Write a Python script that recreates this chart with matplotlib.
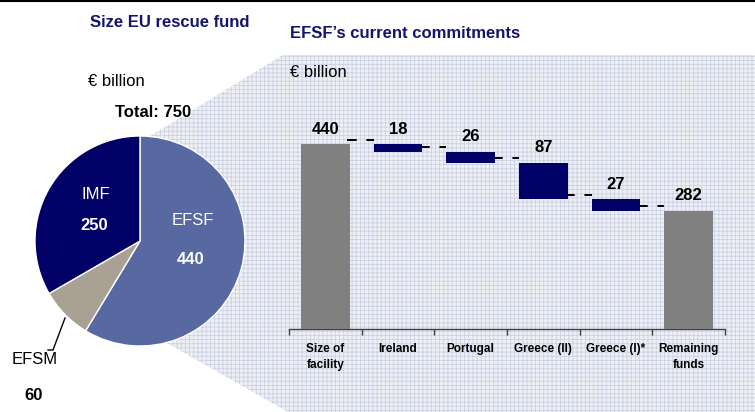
import numpy as np
import matplotlib
matplotlib.use("Agg")
from matplotlib import pyplot as plt
from matplotlib.patches import Polygon

plt.rcParams['font.family'] = ['Liberation Sans', 'DejaVu Sans']
plt.rcParams['hatch.linewidth'] = 0.6

# pie data
pie_labels = ['EFSF', 'EFSM', 'IMF']
pie_values = [440, 60, 250]
pie_colors = ['#5868a0', '#a9a194', '#000066']

# waterfall data
categories = ['Size of\nfacility', 'Ireland', 'Portugal', 'Greece (II)', 'Greece (I)*', 'Remaining\nfunds']
values = [440, 18, 26, 87, 27, 282]
kinds = ['total', 'step', 'step', 'step', 'step', 'total']

navy = '#000066'
title_col = '#14146e'

W, H = 755, 412
fig = plt.figure(figsize=(W / 100, H / 100), dpi=100)

# background in pixel coords
bg = fig.add_axes([0, 0, 1, 1])
bg.set_xlim(0, W)
bg.set_ylim(H, 0)
bg.axis('off')
shade = Polygon([(283, 55), (W, 55), (W, H), (288, H), (160, 339), (140, 241), (148, 137.4)],
                closed=True, facecolor='#eef0f6', edgecolor='#ccd1e3', hatch='++++', lw=0)
bg.add_patch(shade)
bg.plot([0, W], [0.8, 0.8], color='black', lw=1.5)

# pie
cx, cy, r = 140, 241, 105
pax = fig.add_axes([(cx - r) / W, (H - cy - r) / H, 2 * r / W, 2 * r / H])
pax.pie(pie_values, colors=pie_colors, startangle=90, counterclock=False,
        wedgeprops=dict(edgecolor='white', linewidth=1))
pax.set_xlim(-1, 1)
pax.set_ylim(-1, 1)
pax.axis('off')

# waterfall
x0, x1, ybase = 289, 725, 329
scale = 0.42
ymax = 500
wax = fig.add_axes([x0 / W, (H - ybase) / H, (x1 - x0) / W, ymax * scale / H])
wax.patch.set_alpha(0)
wax.set_xlim(-0.5, len(categories) - 0.5)
wax.set_ylim(0, ymax)

level = 0
bottoms = []
tops = []
for v, k in zip(values, kinds):
    if k == 'total':
        b, t = 0, v
        level = v
    else:
        b, t = level - v, level
        level = level - v
    bottoms.append(b)
    tops.append(t)

xs = np.arange(len(categories))
cols = ['#808080' if k == 'total' else navy for k in kinds]
bw = 0.67
wax.bar(xs, np.array(tops) - np.array(bottoms), bottom=bottoms, width=bw, color=cols, zorder=3)

for i, v in enumerate(values):
    wax.annotate(str(v), (xs[i], tops[i]), xytext=(0, 5.5), textcoords='offset points',
                 ha='center', va='bottom', fontsize=12, fontweight='bold')

# dashed connectors
for i in range(len(categories) - 1):
    lev = bottoms[i] if kinds[i] == 'step' else tops[i]
    wax.plot([xs[i] + bw / 2 - 0.03, xs[i + 1] - bw / 2], [lev + 11, lev + 11],
             color='black', lw=1.4, linestyle=(0, (5, 5)), zorder=2)

for s in ['top', 'right', 'left']:
    wax.spines[s].set_visible(False)
wax.spines['bottom'].set_color('#404040')
wax.spines['bottom'].set_linewidth(1)
wax.set_yticks([])
wax.set_xticks(xs)
wax.set_xticklabels(categories, fontsize=8.5, fontweight='bold', linespacing=1.5)
wax.tick_params(axis='x', which='major', length=0, pad=10)
wax.set_xticks(np.arange(-0.5, len(categories), 1), minor=True)
wax.tick_params(axis='x', which='minor', length=4, width=1, color='#404040', direction='out')

# overlay texts in pixel coords
top = fig.add_axes([0, 0, 1, 1])
top.set_xlim(0, W)
top.set_ylim(H, 0)
top.axis('off')
top.patch.set_alpha(0)

top.text(90, 22, 'Size EU rescue fund', fontsize=12, fontweight='bold', color=title_col, va='center', ha='left')
top.text(290, 33, 'EFSF\u2019s current commitments', fontsize=12, fontweight='bold', color=title_col, va='center', ha='left')
top.text(88, 81, '\u20ac billion', fontsize=12, va='center', ha='left')
top.text(153, 112, 'Total: 750', fontsize=12, fontweight='bold', va='center', ha='center')
top.text(290, 72, '\u20ac billion', fontsize=12, va='center', ha='left')

top.text(96, 194, pie_labels[2], fontsize=12, color='white', va='center', ha='center')
top.text(94, 225, str(pie_values[2]), fontsize=12, fontweight='bold', color='white', va='center', ha='center')
top.text(193, 220, pie_labels[0], fontsize=12, color='white', va='center', ha='center')
top.text(191, 260, str(pie_values[0]), fontsize=12, fontweight='bold', color='white', va='center', ha='center')
top.text(35, 360, pie_labels[1], fontsize=12, va='center', ha='center')
top.text(34, 395, str(pie_values[1]), fontsize=12, fontweight='bold', va='center', ha='center')
top.plot([65, 53, 48], [318, 350, 350], color='black', lw=1)

fig.savefig('out.png', dpi=100)
